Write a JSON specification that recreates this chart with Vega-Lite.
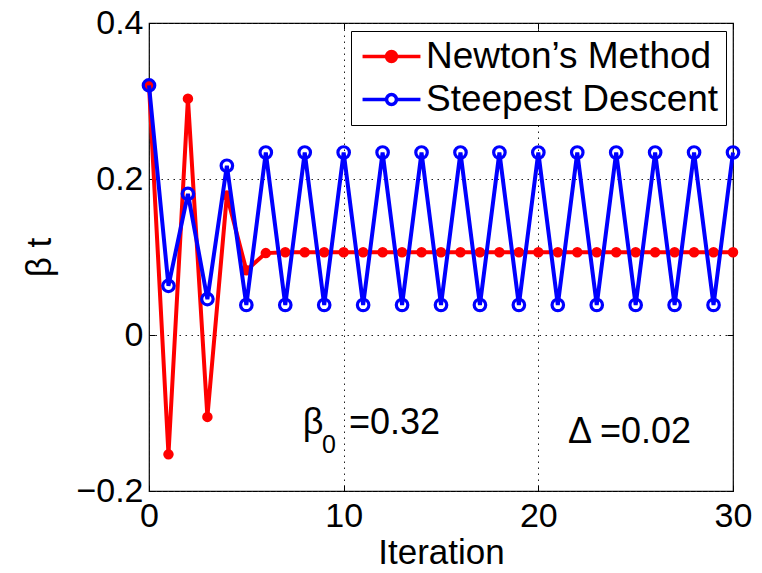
{
  "$schema": "https://vega.github.io/schema/vega-lite/v6.json",
  "width": 584,
  "height": 468,
  "autosize": {"type": "none"},
  "padding": {"left": 149, "top": 23, "right": 29, "bottom": 82},
  "background": "white",
  "config": {
    "view": {"stroke": "#000", "strokeWidth": 1.2},
    "font": "Liberation Sans",
    "axis": {
      "domain": false,
      "gridColor": "#222",
      "gridOpacity": 1,
      "gridDash": [1.5, 4.5],
      "gridWidth": 1,
      "tickColor": "#000",
      "tickSize": -6,
      "tickWidth": 1,
      "labelFont": "Liberation Sans",
      "labelFontSize": 34,
      "labelColor": "#000",
      "labelFlush": false,
      "titleFont": "Liberation Sans",
      "titleFontSize": 35,
      "titleColor": "#000",
      "titleFontWeight": "normal"
    },
    "legend": {
      "orient": "none",
      "legendX": 202,
      "legendY": 8,
      "title": null,
      "strokeColor": "#000",
      "fillColor": "#fff",
      "padding": 7,
      "labelFont": "Liberation Sans",
      "labelFontSize": 37,
      "labelLimit": 0,
      "labelColor": "#000",
      "symbolSize": 900,
      "symbolType": "M-1.93,0H-0.33M0.33,0H1.93M0.33,0A0.33,0.33 0 1,1 -0.33,0A0.33,0.33 0 1,1 0.33,0Z",
      "symbolStrokeWidth": 3.5,
      "symbolOffset": 15,
      "labelOffset": 16,
      "rowPadding": 5
    }
  },
  "datasets": {
    "series": [
      {"iter": 0, "value": 0.32, "series": "Newton’s Method"},
      {"iter": 1, "value": -0.153, "series": "Newton’s Method"},
      {"iter": 2, "value": 0.303, "series": "Newton’s Method"},
      {"iter": 3, "value": -0.105, "series": "Newton’s Method"},
      {"iter": 4, "value": 0.179, "series": "Newton’s Method"},
      {"iter": 5, "value": 0.083, "series": "Newton’s Method"},
      {"iter": 6, "value": 0.105, "series": "Newton’s Method"},
      {"iter": 7, "value": 0.106, "series": "Newton’s Method"},
      {"iter": 8, "value": 0.106, "series": "Newton’s Method"},
      {"iter": 9, "value": 0.106, "series": "Newton’s Method"},
      {"iter": 10, "value": 0.106, "series": "Newton’s Method"},
      {"iter": 11, "value": 0.106, "series": "Newton’s Method"},
      {"iter": 12, "value": 0.106, "series": "Newton’s Method"},
      {"iter": 13, "value": 0.106, "series": "Newton’s Method"},
      {"iter": 14, "value": 0.106, "series": "Newton’s Method"},
      {"iter": 15, "value": 0.106, "series": "Newton’s Method"},
      {"iter": 16, "value": 0.106, "series": "Newton’s Method"},
      {"iter": 17, "value": 0.106, "series": "Newton’s Method"},
      {"iter": 18, "value": 0.106, "series": "Newton’s Method"},
      {"iter": 19, "value": 0.106, "series": "Newton’s Method"},
      {"iter": 20, "value": 0.106, "series": "Newton’s Method"},
      {"iter": 21, "value": 0.106, "series": "Newton’s Method"},
      {"iter": 22, "value": 0.106, "series": "Newton’s Method"},
      {"iter": 23, "value": 0.106, "series": "Newton’s Method"},
      {"iter": 24, "value": 0.106, "series": "Newton’s Method"},
      {"iter": 25, "value": 0.106, "series": "Newton’s Method"},
      {"iter": 26, "value": 0.106, "series": "Newton’s Method"},
      {"iter": 27, "value": 0.106, "series": "Newton’s Method"},
      {"iter": 28, "value": 0.106, "series": "Newton’s Method"},
      {"iter": 29, "value": 0.106, "series": "Newton’s Method"},
      {"iter": 30, "value": 0.106, "series": "Newton’s Method"},
      {"iter": 0, "value": 0.32, "series": "Steepest Descent"},
      {"iter": 1, "value": 0.063, "series": "Steepest Descent"},
      {"iter": 2, "value": 0.181, "series": "Steepest Descent"},
      {"iter": 3, "value": 0.046, "series": "Steepest Descent"},
      {"iter": 4, "value": 0.217, "series": "Steepest Descent"},
      {"iter": 5, "value": 0.0385, "series": "Steepest Descent"},
      {"iter": 6, "value": 0.234, "series": "Steepest Descent"},
      {"iter": 7, "value": 0.0385, "series": "Steepest Descent"},
      {"iter": 8, "value": 0.234, "series": "Steepest Descent"},
      {"iter": 9, "value": 0.0385, "series": "Steepest Descent"},
      {"iter": 10, "value": 0.234, "series": "Steepest Descent"},
      {"iter": 11, "value": 0.0385, "series": "Steepest Descent"},
      {"iter": 12, "value": 0.234, "series": "Steepest Descent"},
      {"iter": 13, "value": 0.0385, "series": "Steepest Descent"},
      {"iter": 14, "value": 0.234, "series": "Steepest Descent"},
      {"iter": 15, "value": 0.0385, "series": "Steepest Descent"},
      {"iter": 16, "value": 0.234, "series": "Steepest Descent"},
      {"iter": 17, "value": 0.0385, "series": "Steepest Descent"},
      {"iter": 18, "value": 0.234, "series": "Steepest Descent"},
      {"iter": 19, "value": 0.0385, "series": "Steepest Descent"},
      {"iter": 20, "value": 0.234, "series": "Steepest Descent"},
      {"iter": 21, "value": 0.0385, "series": "Steepest Descent"},
      {"iter": 22, "value": 0.234, "series": "Steepest Descent"},
      {"iter": 23, "value": 0.0385, "series": "Steepest Descent"},
      {"iter": 24, "value": 0.234, "series": "Steepest Descent"},
      {"iter": 25, "value": 0.0385, "series": "Steepest Descent"},
      {"iter": 26, "value": 0.234, "series": "Steepest Descent"},
      {"iter": 27, "value": 0.0385, "series": "Steepest Descent"},
      {"iter": 28, "value": 0.234, "series": "Steepest Descent"},
      {"iter": 29, "value": 0.0385, "series": "Steepest Descent"},
      {"iter": 30, "value": 0.234, "series": "Steepest Descent"}
    ],
    "notes": [
      {"x": 7.9, "y": -0.127, "label": "β"},
      {"x": 10.27, "y": -0.127, "label": "=0.32"},
      {"x": 21.52, "y": -0.1385, "label": "Δ =0.02"}
    ],
    "subs": [
      {"x": 8.89, "y": -0.1515, "label": "0"}
    ]
  },
  "layer": [
    {
      "data": {"name": "series"},
      "transform": [{"filter": "datum.series === 'Newton’s Method'"}],
      "mark": {"type": "line", "color": "#ff0000", "strokeWidth": 4},
      "encoding": {
        "x": {
          "field": "iter", "type": "quantitative",
          "scale": {"domain": [0, 30], "nice": false, "zero": false},
          "axis": {"orient": "bottom", "values": [0, 10, 20, 30], "grid": true, "labelPadding": 14, "title": "Iteration", "titleX": 292, "titleY": 72, "titleBaseline": "alphabetic"}
        },
        "y": {
          "field": "value", "type": "quantitative",
          "scale": {"domain": [-0.2, 0.4], "nice": false, "zero": false},
          "axis": {"orient": "left", "values": [-0.2, 0, 0.2, 0.4], "format": "~g", "grid": true, "labelPadding": 12, "title": "β t", "titleAngle": -90, "titleX": -99, "titleY": 234, "titleAlign": "center", "titleBaseline": "alphabetic"}
        }
      }
    },
    {
      "data": {"name": "series"},
      "transform": [{"filter": "datum.series === 'Newton’s Method'"}],
      "mark": {"type": "point", "shape": "circle", "size": 72, "strokeWidth": 2, "opacity": 1},
      "encoding": {
        "x": {"field": "iter", "type": "quantitative", "axis": null},
        "y": {"field": "value", "type": "quantitative", "axis": null},
        "fill": {"field": "series", "type": "nominal", "scale": {"domain": ["Newton’s Method", "Steepest Descent"], "range": ["#ff0000", "rgba(0,0,0,0)"]}},
        "stroke": {"field": "series", "type": "nominal", "scale": {"domain": ["Newton’s Method", "Steepest Descent"], "range": ["#ff0000", "#0000ff"]}}
      }
    },
    {
      "data": {"name": "series"},
      "transform": [{"filter": "datum.series === 'Steepest Descent'"}],
      "mark": {"type": "line", "color": "#0000ff", "strokeWidth": 4},
      "encoding": {
        "x": {"field": "iter", "type": "quantitative", "axis": {"orient": "top", "values": [0, 10, 20, 30], "labels": false, "title": null, "grid": false}},
        "y": {"field": "value", "type": "quantitative", "axis": {"orient": "right", "values": [-0.2, 0, 0.2, 0.4], "labels": false, "title": null, "grid": false}}
      }
    },
    {
      "data": {"name": "series"},
      "transform": [{"filter": "datum.series === 'Steepest Descent'"}],
      "mark": {"type": "point", "shape": "circle", "size": 132, "strokeWidth": 3.2, "opacity": 1},
      "encoding": {
        "x": {"field": "iter", "type": "quantitative", "axis": null},
        "y": {"field": "value", "type": "quantitative", "axis": null},
        "fill": {"field": "series", "type": "nominal"},
        "stroke": {"field": "series", "type": "nominal"}
      }
    },
    {
      "data": {"name": "notes"},
      "mark": {"type": "text", "align": "left", "baseline": "alphabetic", "fontSize": 36, "font": "Liberation Sans", "color": "#000"},
      "encoding": {
        "x": {"field": "x", "type": "quantitative", "axis": null},
        "y": {"field": "y", "type": "quantitative", "axis": null},
        "text": {"field": "label"}
      }
    },
    {
      "data": {"name": "subs"},
      "mark": {"type": "text", "align": "left", "baseline": "alphabetic", "fontSize": 25, "font": "Liberation Sans", "color": "#000"},
      "encoding": {
        "x": {"field": "x", "type": "quantitative", "axis": null},
        "y": {"field": "y", "type": "quantitative", "axis": null},
        "text": {"field": "label"}
      }
    }
  ],
  "resolve": {"axis": {"x": "independent", "y": "independent"}}
}
